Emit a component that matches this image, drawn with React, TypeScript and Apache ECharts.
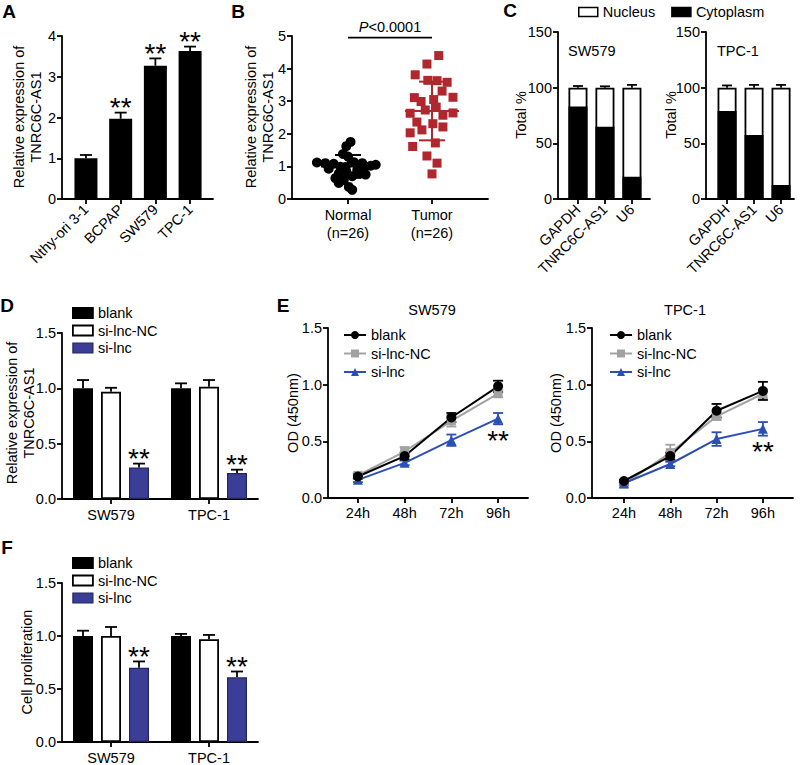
import React, { useEffect, useRef } from 'react';
import * as echarts from 'echarts';

const FONT = "'Liberation Sans', Arial, Helvetica, sans-serif";
const FS = 14.5;
const STAR_FS = 28;
const AXW = 1.8;
const BLUE_BAR = '#3a3e96';
const BLUE_LINE = '#2c4fb6';
const GRAY = '#a2a2a2';
const RED = '#b0282e';

// ---------- Panel A ----------
const cellLines = ['Nthy-ori 3-1', 'BCPAP', 'SW579', 'TPC-1'];
const cellLineExpr = [1.0, 1.97, 3.27, 3.63];
const cellLineErr = [0.08, 0.15, 0.18, 0.11];
const cellLineSig = ['', '**', '**', '**'];

// ---------- Panel B ----------
const tissueGroups = ['Normal\n(n=26)', 'Tumor\n(n=26)'];
const normalValues = [1.75, 1.62, 1.38, 1.12, 1.10, 1.08, 1.13, 1.10, 1.02, 0.98, 0.99, 0.98, 0.93, 0.89, 0.78, 0.78, 0.75, 0.70, 0.64, 0.58, 0.49, 0.37, 0.28, 1.30, 1.05, 0.85];
const normalJitter = [0.03, -0.02, -0.06, -0.37, -0.27, -0.17, 0.07, 0.17, 0.27, -0.03, -0.09, 0.2, -0.23, 0.11, -0.11, 0.15, 0.21, 0.05, -0.15, -0.05, -0.11, 0.01, 0.05, 0.0, 0.33, -0.02];
const tumorValues = [4.40, 4.14, 3.81, 3.63, 3.58, 3.64, 3.31, 3.12, 3.05, 3.11, 2.99, 2.82, 2.73, 2.64, 2.63, 2.57, 2.36, 2.31, 2.21, 2.12, 2.03, 1.72, 1.61, 1.32, 1.10, 0.77];
const tumorJitter = [0.08, -0.06, -0.2, 0.06, 0.18, -0.05, 0.12, 0.25, 0.02, -0.21, -0.13, 0.05, -0.08, 0.25, -0.26, 0.13, -0.18, 0.01, 0.13, -0.12, -0.26, 0.04, -0.23, -0.06, 0.06, 0.0];
const groupMeans = [1.0, 2.7];
const groupSDs = [0.35, 0.9];
const pValueLevel = 4.95;
const pValueText = '<0.0001';

// ---------- Panel C ----------
const fractionTargets = ['GAPDH', 'TNRC6C-AS1', 'U6'];
const cytoSW579 = [83, 65, 20];
const cytoErrSW579 = [3, 1.5, 1];
const nucSW579 = [17, 35, 80];
const totalErrSW579 = [1.5, 1.2, 2.5];
const cytoTPC1 = [79, 57.5, 12.5];
const cytoErrTPC1 = [3, 2.5, 1.8];
const nucTPC1 = [21, 42.5, 87.5];
const totalErrTPC1 = [2, 2.5, 2.5];

// ---------- Panels D & F ----------
const cellGroups = ['SW579', 'TPC-1'];
const treatments = ['blank', 'si-lnc-NC', 'si-lnc'];
const exprBlank = [1.0, 1.0];
const exprBlankErr = [0.075, 0.045];
const exprNC = [0.97, 1.015];
const exprNCErr = [0.035, 0.06];
const exprSi = [0.285, 0.235];
const exprSiErr = [0.035, 0.03];
const exprSig = ['**', '**'];
const prolBlank = [1.0, 1.0];
const prolBlankErr = [0.05, 0.02];
const prolNC = [1.0, 0.97];
const prolNCErr = [0.085, 0.04];
const prolSi = [0.70, 0.61];
const prolSiErr = [0.06, 0.055];
const prolSig = ['**', '**'];

// ---------- Panel E ----------
const timePoints = ['24h', '48h', '72h', '96h'];
const odSWBlank = [0.19, 0.37, 0.71, 0.985];
const odSWBlankErr = [0.02, 0.03, 0.04, 0.05];
const odSWNC = [0.20, 0.41, 0.68, 0.92];
const odSWNCErr = [0.02, 0.04, 0.05, 0.03];
const odSWSi = [0.16, 0.31, 0.51, 0.70];
const odSWSiErr = [0.02, 0.02, 0.05, 0.05];
const odTPCBlank = [0.15, 0.37, 0.77, 0.945];
const odTPCBlankErr = [0.01, 0.03, 0.06, 0.08];
const odTPCNC = [0.12, 0.40, 0.72, 0.92];
const odTPCNCErr = [0.01, 0.07, 0.03, 0.04];
const odTPCSi = [0.13, 0.30, 0.52, 0.61];
const odTPCSiErr = [0.01, 0.02, 0.06, 0.06];
const odSig = ['', '', '', '**'];

// ---------- helpers ----------
const axisLine = { show: true, onZero: false, lineStyle: { color: '#000', width: AXW } };
const axisTick = { show: true, length: 5, lineStyle: { color: '#000', width: AXW } };
const lbl = { color: '#000', fontSize: FS, fontFamily: FONT };
const fix1 = (v: number) => v.toFixed(1);

function yAx(grid: number, max: number, interval: number, fmt?: any) {
  const axisLabel: any = { ...lbl, margin: 6 };
  if (fmt) axisLabel.formatter = fmt;
  return { type: 'value', gridIndex: grid, min: 0, max, interval, axisLine, axisTick, splitLine: { show: false }, axisLabel };
}

function xValAx(grid: number, min: number, max: number, names: string[], rotate = 0, extra: any = {}) {
  const ticks = names.map((_, i) => i + 1);
  return {
    type: 'value', gridIndex: grid, min, max,
    axisLine, axisTick: { ...axisTick, customValues: ticks }, splitLine: { show: false },
    axisLabel: { ...lbl, margin: 8, rotate, customValues: ticks, formatter: (v: number) => names[Math.round(v) - 1] || '', ...extra },
  };
}

function xCatAx(grid: number, names: string[]) {
  return {
    type: 'category', gridIndex: grid, data: names,
    axisLine, axisTick: { ...axisTick, alignWithLabel: true }, splitLine: { show: false },
    axisLabel: { ...lbl, margin: 8 },
  };
}

function errBars(color: string, offsetPx: number, half: number, both: boolean) {
  return (_p: any, api: any) => {
    const x = api.value(0), v = api.value(1), e = api.value(2);
    const hi = api.coord([x, v + e]);
    const lo = api.coord([x, both ? v - e : v]);
    const cx = hi[0] + offsetPx;
    const style = { stroke: color, lineWidth: AXW, fill: 'none' };
    const children: any[] = [
      { type: 'line', shape: { x1: cx, y1: lo[1], x2: cx, y2: hi[1] }, style },
      { type: 'line', shape: { x1: cx - half, y1: hi[1], x2: cx + half, y2: hi[1] }, style },
    ];
    if (both) children.push({ type: 'line', shape: { x1: cx - half, y1: lo[1], x2: cx + half, y2: lo[1] }, style });
    return { type: 'group', children };
  };
}

function starText(sig: string[], offsetPx: number, dy: number) {
  return (p: any, api: any) => {
    const pt = api.coord([api.value(0), api.value(1)]);
    return {
      type: 'text', x: pt[0] + offsetPx, y: pt[1] + dy,
      style: { text: sig[p.dataIndex] || '', fill: '#000', fontSize: STAR_FS, fontFamily: FONT, align: 'center', verticalAlign: 'middle', textAlign: 'center', textVerticalAlign: 'middle' },
    };
  };
}

function gText(text: string, x: number, y: number, opts: any = {}) {
  const { rotate = false, align = 'center', size = FS, weight = 'normal' } = opts;
  return {
    type: 'text', x, y, rotation: rotate ? Math.PI / 2 : 0, z: 100,
    style: { text, fill: '#000', fontSize: size, fontWeight: weight, fontFamily: FONT, align, verticalAlign: 'middle', textAlign: align, textVerticalAlign: 'middle' },
  };
}

const legendText = { color: '#000', fontSize: FS, fontFamily: FONT, lineHeight: 16 };
const barStyles = [
  { color: '#000', borderColor: '#000', borderWidth: AXW },
  { color: '#fff', borderColor: '#000', borderWidth: AXW },
  { color: BLUE_BAR, borderColor: '#23265e', borderWidth: 1.2 },
];

function groupedSeries(ax: number, vals: number[][], errs: number[][], sig: string[]) {
  const out: any[] = [];
  treatments.forEach((name, k) => {
    out.push({ type: 'bar', name, xAxisIndex: ax, yAxisIndex: ax, barWidth: 20, barGap: '40%', itemStyle: barStyles[k], data: vals[k] });
  });
  treatments.forEach((_name, k) => {
    out.push({ type: 'custom', xAxisIndex: ax, yAxisIndex: ax, renderItem: errBars('#000', (k - 1) * 28, 6, false), data: vals[k].map((v, i) => [i, v, errs[k][i]]) });
  });
  out.push({ type: 'custom', xAxisIndex: ax, yAxisIndex: ax, renderItem: starText(sig, 28, -5), data: vals[2].map((v, i) => [i, v + errs[2][i]]) });
  return out;
}

// Nucleus fraction sits on top of the cytoplasm fraction: its bar reaches cyto + nuc,
// and the cytoplasm bar is overlaid on its lower part (barGap -100%).
function fractionSeries(ax: number, cyto: number[], cytoErr: number[], nuc: number[], totErr: number[]) {
  return [
    { type: 'bar', name: 'Nucleus', xAxisIndex: ax, yAxisIndex: ax, barWidth: 19, barGap: '-100%', itemStyle: { color: '#fff', borderColor: '#000', borderWidth: AXW }, data: nuc.map((v, i) => [i + 1, cyto[i] + v]) },
    { type: 'bar', name: 'Cytoplasm', xAxisIndex: ax, yAxisIndex: ax, barWidth: 19, barGap: '-100%', itemStyle: { color: '#000', borderColor: '#000', borderWidth: AXW }, data: cyto.map((v, i) => [i + 1, v]) },
    { type: 'custom', xAxisIndex: ax, yAxisIndex: ax, renderItem: errBars('#000', 0, 5, false), data: cyto.map((v, i) => [i + 1, v, cytoErr[i]]) },
    { type: 'custom', xAxisIndex: ax, yAxisIndex: ax, renderItem: errBars('#000', 0, 5, false), data: nuc.map((v, i) => [i + 1, cyto[i] + v, totErr[i]]) },
  ];
}

function timeSeries(ax: number, blank: number[], blankErr: number[], nc: number[], ncErr: number[], si: number[], siErr: number[]) {
  const defs = [
    { name: 'si-lnc-NC', vals: nc, errs: ncErr, color: GRAY, symbol: 'rect', size: 9 },
    { name: 'si-lnc', vals: si, errs: siErr, color: BLUE_LINE, symbol: 'triangle', size: 10 },
    { name: 'blank', vals: blank, errs: blankErr, color: '#000', symbol: 'circle', size: 10 },
  ];
  const out: any[] = [];
  defs.forEach((d) => out.push({ type: 'custom', xAxisIndex: ax, yAxisIndex: ax, renderItem: errBars(d.color, 0, 5, true), data: d.vals.map((v, i) => [i + 1, v, d.errs[i]]) }));
  defs.forEach((d) => out.push({
    type: 'line', name: d.name, xAxisIndex: ax, yAxisIndex: ax, symbol: d.symbol, symbolSize: d.size, showSymbol: true,
    lineStyle: { color: d.color, width: 2 }, itemStyle: { color: d.color }, data: d.vals.map((v, i) => [i + 1, v]),
  }));
  out.push({ type: 'custom', xAxisIndex: ax, yAxisIndex: ax, renderItem: starText(odSig, 0, 16), data: si.map((v, i) => [i + 1, v - siErr[i]]) });
  return out;
}

function legendTreat(left: number, top: number, gap: number, iw: number, ih: number, line: boolean) {
  const data = treatments.map((name, k) => (line ? { name } : { name, icon: 'rect', itemStyle: barStyles[k] }));
  return { left, top, orient: 'vertical', padding: 0, itemGap: gap, itemWidth: iw, itemHeight: ih, selectedMode: false, textStyle: legendText, data };
}

function buildMain(): any {
  const grid = [
    { left: 62, top: 36, width: 151, height: 163 },
    { left: 292, top: 36, width: 196, height: 163 },
    { left: 558, top: 32, width: 92, height: 167 },
    { left: 706, top: 32, width: 88, height: 167 },
    { left: 62, top: 333, width: 196, height: 166 },
    { left: 62, top: 583, width: 196, height: 159 },
  ].map((g) => ({ ...g, containLabel: false, outerBoundsMode: 'none' }));

  const xAxis = [
    xValAx(0, 0.31, 4.66, cellLines, 45),
    xValAx(1, 1 / 3, 8 / 3, tissueGroups, 0, { lineHeight: 18, margin: 7 }),
    xValAx(2, 0.26, 3.67, fractionTargets, 45),
    xValAx(3, 0.22, 3.48, fractionTargets, 45),
    xCatAx(4, cellGroups),
    xCatAx(5, cellGroups),
  ];
  const yAxis = [
    yAx(0, 4, 1),
    yAx(1, 5, 1),
    yAx(2, 150, 50),
    yAx(3, 150, 50),
    yAx(4, 1.5, 0.5, fix1),
    yAx(5, 1.5, 0.5, fix1),
  ];

  const groupColors = ['#000', RED];
  const series: any[] = [
    { type: 'bar', name: 'cell lines', xAxisIndex: 0, yAxisIndex: 0, barWidth: 23, itemStyle: { color: '#000' }, data: cellLineExpr.map((v, i) => [i + 1, v]) },
    { type: 'custom', xAxisIndex: 0, yAxisIndex: 0, renderItem: errBars('#000', 0, 6, false), data: cellLineExpr.map((v, i) => [i + 1, v, cellLineErr[i]]) },
    { type: 'custom', xAxisIndex: 0, yAxisIndex: 0, renderItem: starText(cellLineSig, 0, -5), data: cellLineExpr.map((v, i) => [i + 1, v + cellLineErr[i]]) },

    { type: 'scatter', name: 'Normal', xAxisIndex: 1, yAxisIndex: 1, symbol: 'circle', symbolSize: 10, itemStyle: { color: '#000', opacity: 1 }, data: normalValues.map((v, i) => [1 + normalJitter[i], v]) },
    { type: 'scatter', name: 'Tumor', xAxisIndex: 1, yAxisIndex: 1, symbol: 'rect', symbolSize: 9, itemStyle: { color: RED, opacity: 1 }, data: tumorValues.map((v, i) => [2 + tumorJitter[i], v]) },
    {
      type: 'custom', xAxisIndex: 1, yAxisIndex: 1,
      renderItem: (p: any, api: any) => {
        const x = api.value(0), m = api.value(1), s = api.value(2);
        const c = api.coord([x, m]), t = api.coord([x, m + s]), b = api.coord([x, m - s]);
        const style = { stroke: groupColors[p.dataIndex], lineWidth: 2 };
        const ln = (x1: number, y1: number, x2: number, y2: number) => ({ type: 'line', shape: { x1, y1, x2, y2 }, style });
        return { type: 'group', children: [
          ln(c[0] - 27, c[1], c[0] + 27, c[1]),
          ln(c[0], t[1], c[0], b[1]),
          ln(c[0] - 13, t[1], c[0] + 13, t[1]),
          ln(c[0] - 13, b[1], c[0] + 13, b[1]),
        ] };
      },
      data: groupMeans.map((m, i) => [i + 1, m, groupSDs[i]]),
    },
    {
      type: 'custom', xAxisIndex: 1, yAxisIndex: 1,
      renderItem: (_p: any, api: any) => {
        const a = api.coord([api.value(0), api.value(1)]);
        const b = api.coord([api.value(2), api.value(1)]);
        return { type: 'line', shape: { x1: a[0], y1: a[1], x2: b[0], y2: b[1] }, style: { stroke: '#000', lineWidth: AXW } };
      },
      data: [[1, pValueLevel, 2]],
    },

    ...fractionSeries(2, cytoSW579, cytoErrSW579, nucSW579, totalErrSW579),
    ...fractionSeries(3, cytoTPC1, cytoErrTPC1, nucTPC1, totalErrTPC1),

    ...groupedSeries(4, [exprBlank, exprNC, exprSi], [exprBlankErr, exprNCErr, exprSiErr], exprSig),
    ...groupedSeries(5, [prolBlank, prolNC, prolSi], [prolBlankErr, prolNCErr, prolSiErr], prolSig),
  ];

  const legend = [
    {
      left: 578, top: 4, orient: 'horizontal', padding: 0, itemGap: 16, itemWidth: 19, itemHeight: 9, selectedMode: false, textStyle: legendText,
      data: [
        { name: 'Nucleus', icon: 'rect', itemStyle: { color: '#fff', borderColor: '#000', borderWidth: 1.5 } },
        { name: 'Cytoplasm', icon: 'rect', itemStyle: { color: '#000', borderColor: '#000', borderWidth: 1.5 } },
      ],
    },
    legendTreat(72, 305, 1.5, 20, 10, false),
    legendTreat(72, 555, 1.5, 20, 10, false),
  ];

  const graphic = [
    gText('A', 9, 11, { size: 19, weight: 'bold' }),
    gText('B', 238, 11, { size: 19, weight: 'bold' }),
    gText('C', 510, 10, { size: 19, weight: 'bold' }),
    gText('D', 7, 305, { size: 19, weight: 'bold' }),
    gText('F', 7, 547, { size: 19, weight: 'bold' }),
    gText('Relative expression of', 19, 117, { rotate: true }),
    gText('TNRC6C-AS1', 36, 117, { rotate: true }),
    gText('Relative expression of', 251, 117, { rotate: true }),
    gText('TNRC6C-AS1', 268, 117, { rotate: true }),
    gText('Total %', 521, 115, { rotate: true }),
    gText('Total %', 671, 115, { rotate: true }),
    gText('SW579', 568, 51, { align: 'left' }),
    gText('TPC-1', 717, 51, { align: 'left' }),
    gText('Relative expression of', 12, 413, { rotate: true }),
    gText('TNRC6C-AS1', 29, 413, { rotate: true }),
    gText('Cell proliferation', 27, 662, { rotate: true }),
    {
      type: 'text', x: 390, y: 27, z: 100,
      style: {
        text: '{i|P}' + pValueText, fill: '#000', fontSize: FS, fontFamily: FONT,
        align: 'center', verticalAlign: 'middle', textAlign: 'center', textVerticalAlign: 'middle',
        rich: { i: { fontStyle: 'italic', fontSize: FS, fontFamily: FONT, fill: '#000', color: '#000' } },
      },
    },
  ];

  return { animation: false, textStyle: { fontFamily: FONT }, grid, xAxis, yAxis, series, legend, graphic };
}

function buildE(): any {
  const grid = [
    { left: 328, top: 328, width: 200, height: 170 },
    { left: 592, top: 328, width: 201, height: 170 },
  ].map((g) => ({ ...g, containLabel: false, outerBoundsMode: 'none' }));
  const xAxis = [
    xValAx(0, 0.36, 4.64, timePoints, 0, { margin: 7 }),
    xValAx(1, 0.31, 4.65, timePoints, 0, { margin: 7 }),
  ];
  const yAxis = [yAx(0, 1.5, 0.5, fix1), yAx(1, 1.5, 0.5, fix1)];
  const series = [
    ...timeSeries(0, odSWBlank, odSWBlankErr, odSWNC, odSWNCErr, odSWSi, odSWSiErr),
    ...timeSeries(1, odTPCBlank, odTPCBlankErr, odTPCNC, odTPCNCErr, odTPCSi, odTPCSiErr),
  ];
  const legend = [legendTreat(343, 327, 2.5, 22, 10, true), legendTreat(609, 327, 2.5, 22, 10, true)];
  const graphic = [
    gText('E', 283, 305, { size: 19, weight: 'bold' }),
    gText('SW579', 432, 310),
    gText('TPC-1', 685, 310),
    gText('OD (450nm)', 293, 413, { rotate: true }),
    gText('OD (450nm)', 556, 413, { rotate: true }),
  ];
  return { animation: false, textStyle: { fontFamily: FONT }, grid, xAxis, yAxis, series, legend, graphic };
}

export default function App() {
  const mainRef = useRef<HTMLDivElement>(null);
  const eRef = useRef<HTMLDivElement>(null);
  useEffect(() => {
    const c1 = echarts.init(mainRef.current!, undefined, { renderer: 'svg' });
    c1.setOption(buildMain());
    const c2 = echarts.init(eRef.current!, undefined, { renderer: 'svg' });
    c2.setOption(buildE());
    return () => {
      c1.dispose();
      c2.dispose();
    };
  }, []);
  const layer: React.CSSProperties = { position: 'absolute', left: 0, top: 0, width: 800, height: 765 };
  return (
    <div style={{ position: 'absolute', left: 0, top: 0, width: 800, height: 765, background: '#fff', overflow: 'hidden' }}>
      <div ref={mainRef} style={layer} />
      <div ref={eRef} style={layer} />
    </div>
  );
}
